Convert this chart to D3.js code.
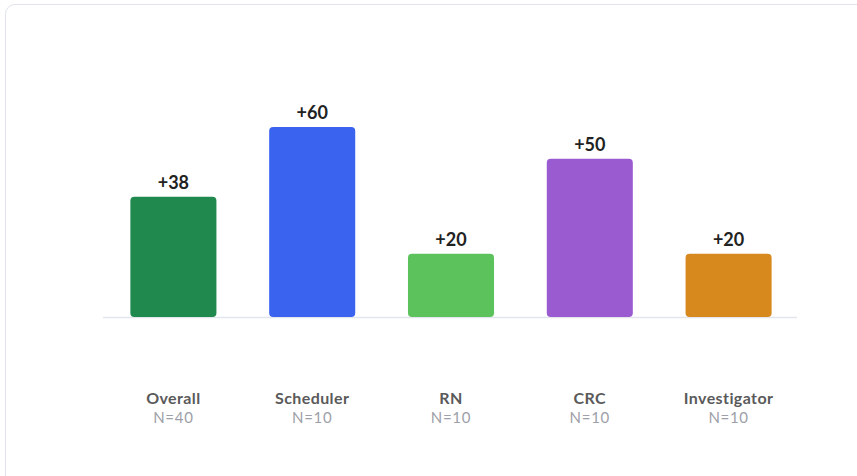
<!DOCTYPE html>
<html>
<head>
<meta charset="utf-8">
<script src="https://cdn.jsdelivr.net/npm/d3@7"></script>
<style>
  html, body { margin: 0; padding: 0; background: #fff; }
  body { width: 857px; height: 476px; overflow: hidden; font-family: Lato, "Noto Sans", sans-serif; }
  #card {
    position: absolute; left: 5px; top: 4px; width: 870px; height: 490px;
    border: 1.5px solid #e0e3ee; border-radius: 10px; box-sizing: border-box;
  }
  svg { position: absolute; left: 0; top: 0; }
</style>
</head>
<body>
<div id="card"></div>
<div id="chart"></div>
<script>
// net score by role
const categories = ['Overall', 'Scheduler', 'RN', 'CRC', 'Investigator'];
const values = [38, 60, 20, 50, 20];
const counts = ['N=40', 'N=10', 'N=10', 'N=10', 'N=10'];
const colors = ['#208a4e', '#3a63f0', '#5bc25c', '#9b5bd0', '#d7891e'];

const W = 857, H = 476;
const baseY = 317;

const svg = d3.select('#chart').append('svg')
  .attr('width', W).attr('height', H);

const x = d3.scaleBand()
  .domain(categories)
  .range([104, 798])
  .paddingInner(0.38)
  .paddingOuter(0.19);

const y = d3.scaleLinear()
  .domain([0, 60])
  .range([baseY, 127]);

// baseline
svg.append('line')
  .attr('x1', 103).attr('x2', 797)
  .attr('y1', baseY + 0.5).attr('y2', baseY + 0.5)
  .attr('stroke', '#e3e5ec').attr('stroke-width', 1.5);

const g = svg.selectAll('g.bar').data(categories).enter().append('g')
  .attr('class', 'bar');

g.append('rect')
  .attr('x', d => x(d))
  .attr('y', (d, i) => y(values[i]))
  .attr('width', x.bandwidth())
  .attr('height', (d, i) => y(0) - y(values[i]))
  .attr('rx', 4).attr('ry', 4)
  .attr('fill', (d, i) => colors[i]);

// value labels
g.append('text')
  .attr('x', d => x(d) + x.bandwidth() / 2)
  .attr('y', (d, i) => y(values[i]) - 8)
  .attr('text-anchor', 'middle')
  .attr('font-size', '18px')
  .attr('font-weight', 'bold')
  .attr('fill', '#222')
  .text((d, i) => '+' + values[i]);

// category + N labels
g.append('text')
  .attr('x', d => x(d) + x.bandwidth() / 2)
  .attr('y', 404)
  .attr('text-anchor', 'middle')
  .attr('font-size', '16px')
  .attr('letter-spacing', '0.4px')
  .attr('font-weight', 'bold')
  .attr('fill', '#5a5a5a')
  .text(d => d);

g.append('text')
  .attr('x', d => x(d) + x.bandwidth() / 2)
  .attr('y', 423)
  .attr('text-anchor', 'middle')
  .attr('font-size', '15px')
  .attr('letter-spacing', '0.7px')
  .attr('fill', '#9da0a8')
  .text((d, i) => counts[i]);
</script>
</body>
</html>
